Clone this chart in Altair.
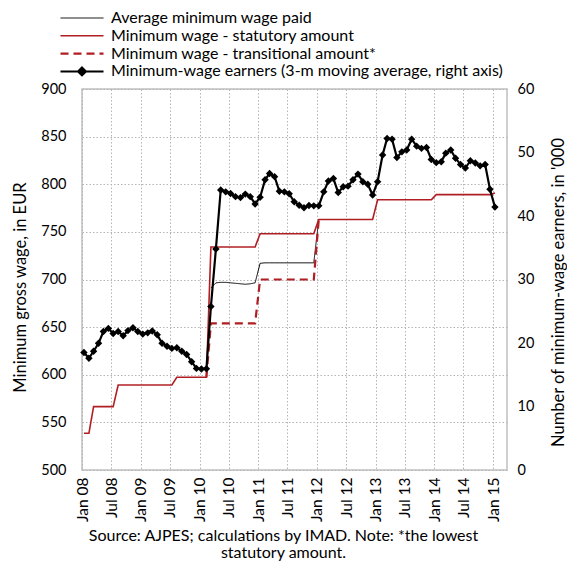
import altair as alt
import pandas as pd

FONT = "Lato"

S_AVG = "Average minimum wage paid"
S_STAT = "Minimum wage - statutory amount"
S_TRANS = "Minimum wage - transitional amount*"
S_EARN = "Minimum-wage earners (3-m moving average, right axis)"

# monthly dates Jan 2008 .. Jan 2015 (plotted mid-month)
months = [f"{y}-{m:02d}-13" for y in range(2008, 2016) for m in range(1, 13)][:85]

statutory = [
    538.53, 538.53, 566.53, 566.53, 566.53, 566.53, 566.53, 589.19, 589.19, 589.19, 589.19, 589.19,
    589.19, 589.19, 589.19, 589.19, 589.19, 589.19, 589.19, 597.43, 597.43, 597.43, 597.43, 597.43,
    597.43, 597.43, 734.15, 734.15, 734.15, 734.15, 734.15, 734.15, 734.15, 734.15, 734.15, 734.15,
    748.10, 748.10, 748.10, 748.10, 748.10, 748.10, 748.10, 748.10, 748.10, 748.10, 748.10, 748.10,
    763.06, 763.06, 763.06, 763.06, 763.06, 763.06, 763.06, 763.06, 763.06, 763.06, 763.06, 763.06,
    783.66, 783.66, 783.66, 783.66, 783.66, 783.66, 783.66, 783.66, 783.66, 783.66, 783.66, 783.66,
    789.15, 789.15, 789.15, 789.15, 789.15, 789.15, 789.15, 789.15, 789.15, 789.15, 789.15, 789.15,
    790.73,
]

# Feb 2010 .. Jan 2012
transitional = [
    597.43,
    654.0, 654.0, 654.0, 654.0, 654.0, 654.0, 654.0, 654.0, 654.0, 654.0,
    700.0, 700.0, 700.0, 700.0, 700.0, 700.0, 700.0, 700.0, 700.0, 700.0, 700.0, 700.0,
    763.06,
]

# Mar 2010 .. Jan 2012
average_paid = [
    691.0, 696.5, 697.0, 697.0, 696.5, 696.0, 695.5, 695.0, 695.5, 696.5,
    717.0, 717.5, 717.5, 717.5, 717.5, 717.5, 717.5, 717.5, 717.5, 717.5, 717.5, 717.5,
    763.0,
]

# thousands, Jan 2008 .. Jan 2015
earners = [
    18.5, 17.6, 18.7, 19.95, 21.8, 22.3, 21.5, 21.8, 21.15, 21.95, 22.4, 21.8,
    21.4, 21.6, 21.9, 21.3, 19.95, 19.5, 19.15, 19.25, 18.7, 18.2, 17.05, 16.0,
    15.9, 15.95, 25.75, 34.8, 44.1, 43.8, 43.55, 43.05, 42.9, 43.45, 43.05, 41.9,
    42.95, 45.7, 46.7, 46.2, 43.9, 43.8, 43.5, 42.25, 41.7, 41.3, 41.65, 41.6,
    41.6, 43.8, 45.5, 45.9, 43.7, 44.6, 44.7, 45.7, 46.6, 45.4, 45.0, 43.3,
    45.4, 49.6, 52.2, 52.1, 49.2, 50.1, 50.4, 52.1, 51.0, 50.65, 50.8, 48.9,
    48.4, 48.55, 49.9, 50.4, 49.1, 48.1, 47.55, 48.7, 48.35, 47.9, 48.1, 44.2,
    41.4,
]

tick_dates = [(y, m) for y in range(2008, 2016) for m in (1, 7)][:15]
caption = ["Source: AJPES; calculations by IMAD. Note: *the lowest ", "statutory amount."]

rows = []
for d, v in zip(months[26:49], average_paid):
    rows.append({"date": d, "value": v, "series": S_AVG})
for d, v in zip(months, statutory):
    rows.append({"date": d, "value": v, "series": S_STAT})
for d, v in zip(months[25:49], transitional):
    rows.append({"date": d, "value": v, "series": S_TRANS})
wages = pd.DataFrame(rows)
earn = pd.DataFrame({"date": months, "earners": earners, "series2": S_EARN})

RED = "#B01E23"
domain_names = [S_AVG, S_STAT, S_TRANS]

x = alt.X(
    "date:T",
    title=None,
    scale=alt.Scale(
        type="utc",
        domain=[alt.DateTime(year=2008, month=1, date=1, utc=True),
                alt.DateTime(year=2015, month=3, date=29, utc=True)],
    ),
    axis=alt.Axis(
        values=[alt.DateTime(year=y, month=m, date=1, utc=True) for y, m in tick_dates],
        format="%b %y", labelAngle=270, labelFontSize=15.5, labelColor="black",
        labelPadding=7, ticks=False, domain=False,
        grid=True, gridDash=[1.5, 2], gridColor="#b5b5b5", gridWidth=1,
    ),
)

leg1 = alt.Legend(
    title=None, orient="none", legendX=-23.5, legendY=-79,
    symbolType="M-1,0H6.17", symbolSize=144, labelOffset=36.5,
    labelFontSize=16, labelColor="black", labelLimit=600, rowPadding=1.8, padding=0,
)

wage_layer = alt.Chart(wages).mark_line(interpolate="linear").encode(
    x=x,
    y=alt.Y(
        "value:Q",
        scale=alt.Scale(domain=[500, 900], nice=False, zero=False),
        axis=alt.Axis(
            values=list(range(500, 901, 50)), title="Minimum gross wage, in EUR",
            titleFontSize=16.5, titleFontWeight="normal", titleColor="black", titleLimit=600,
            titleAngle=270, titleX=-62, titleY=198, titleAlign="center", titleBaseline="middle",
            labelFontSize=14.5, labelColor="black", labelPadding=16, ticks=False, domain=False,
            grid=True, gridDash=[1.5, 2], gridColor="#b5b5b5", gridWidth=1,
        ),
    ),
    color=alt.Color("series:N", scale=alt.Scale(domain=domain_names, range=["black", RED, RED]), legend=leg1),
    strokeDash=alt.StrokeDash("series:N", scale=alt.Scale(domain=domain_names, range=[[1, 0], [1, 0], [8, 5]]), legend=leg1),
    strokeWidth=alt.StrokeWidth("series:N", scale=alt.Scale(domain=domain_names, range=[1, 2.2, 2.2]), legend=leg1),
    order=alt.Order("series:N"),
)

leg2 = alt.Legend(
    title=None, orient="none", legendX=-23.5, legendY=-25.6,
    symbolType="M-1,0H6.17M2.58,-0.67L3.25,0L2.58,0.67L1.91,0Z", symbolSize=144,
    symbolFillColor="black", symbolStrokeColor="black", symbolStrokeWidth=2,
    labelOffset=36.5, labelFontSize=16, labelColor="black", labelLimit=600, padding=0,
)

earn_layer = alt.Chart(earn).mark_line(
    strokeWidth=2.2,
    point=alt.OverlayMarkDef(shape="diamond", filled=True, size=55, color="black"),
).encode(
    x=x,
    y=alt.Y(
        "earners:Q",
        scale=alt.Scale(domain=[0, 60], nice=False),
        axis=alt.Axis(
            orient="right", values=list(range(0, 61, 10)),
            title="Number of minimum-wage earners, in '000",
            titleFontSize=16.5, titleFontWeight="normal", titleColor="black", titleLimit=600,
            titleAngle=270, titleX=51, titleY=203, titleAlign="center", titleBaseline="middle",
            labelFontSize=14.5, labelColor="black", labelPadding=10, ticks=False, domain=False,
            grid=False,
        ),
    ),
    color=alt.Color("series2:N", scale=alt.Scale(domain=[S_EARN], range=["black"]), legend=leg2),
)

chart = alt.layer(wage_layer, earn_layer).resolve_scale(
    y="independent", color="independent", strokeDash="independent", strokeWidth="independent"
).properties(
    width=425, height=381,
    autosize=alt.AutoSizeParams(type="none"),
    padding={"left": 74, "top": 81, "right": 60, "bottom": 91},
    title=alt.TitleParams(text=caption, orient="bottom", anchor="middle", fontSize=16,
                          fontWeight="normal", color="black", offset=6, dx=-11, lineHeight=17.5),
).configure(font=FONT).configure_view(stroke="#c0c0c0", strokeWidth=1.5)

chart.save("out.html", embed_options={"renderer": "svg", "actions": False})
